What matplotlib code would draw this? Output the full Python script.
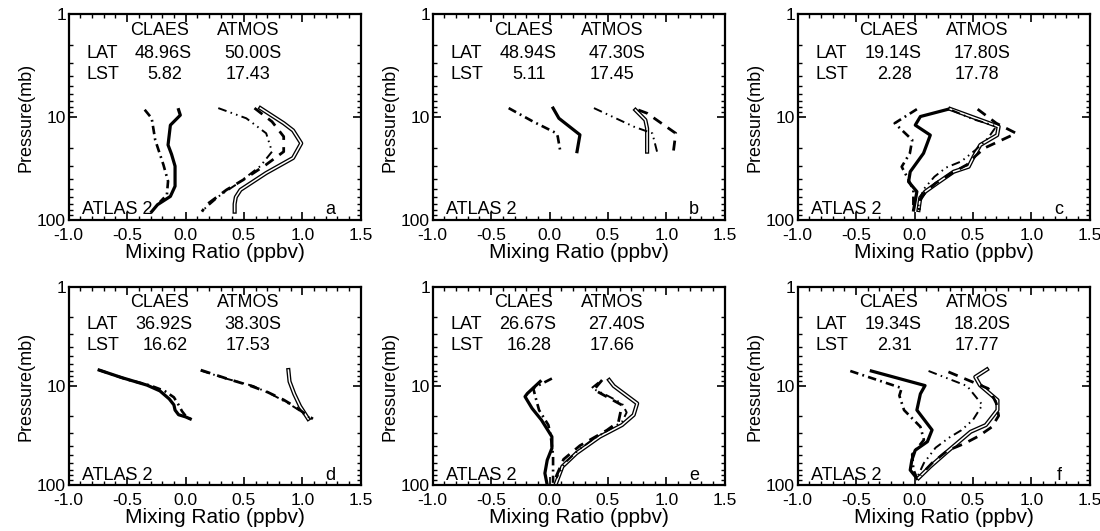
import matplotlib.pyplot as plt
from matplotlib.ticker import MultipleLocator, FixedLocator, LogLocator, NullFormatter

plt.rcParams['font.family'] = ['Liberation Sans', 'DejaVu Sans']

# ---- profiles: mixing ratio (ppbv) vs pressure (mb) ----
# panel a
a_claes_x = [-0.06, -0.045, -0.13, -0.15, -0.12, -0.09, -0.09, -0.13, -0.24, -0.29]
a_claes_p = [8.5, 9.6, 12, 18.7, 23, 30, 47, 59, 71, 83]
a_claes2_x = [-0.35, -0.29, -0.26, -0.19, -0.15, -0.16, -0.22]
a_claes2_p = [8.5, 10.3, 16.7, 29, 42, 57, 67]
a_atmos_x = [0.64, 0.84, 0.92, 0.99, 0.92, 0.69, 0.47, 0.43, 0.42, 0.42]
a_atmos_p = [8.2, 11.5, 13.5, 18, 25, 35, 51, 60, 70, 83]
a_dash_x = [0.59, 0.74, 0.84, 0.84, 0.69, 0.49, 0.35, 0.18, 0.14]
a_dash_p = [8.2, 11.1, 15.5, 21.7, 29, 41, 51, 71, 83]
a_dotdot_x = [0.28, 0.52, 0.69, 0.74, 0.64, 0.45, 0.30, 0.15]
a_dotdot_p = [8.2, 10.3, 14.4, 21.7, 30, 44, 57, 80]

# panel b
b_claes_x = [0.03, 0.08, 0.26, 0.235]
b_claes_p = [8.2, 10.3, 14.9, 21.7]
b_claes2_x = [-0.35, -0.14, 0.06, 0.07, 0.09]
b_claes2_p = [8.2, 11.1, 14.4, 15.5, 20.9]
b_atmos_x = [0.735, 0.82, 0.835, 0.835]
b_atmos_p = [8.55, 10.7, 12.9, 21.7]
b_dash_x = [0.76, 0.835, 1.08, 1.06]
b_dash_p = [8.55, 9.2, 14.4, 21.7]
b_dotdot_x = [0.38, 0.72, 0.88, 0.92]
b_dotdot_p = [8.2, 12.4, 14.4, 21.7]

# panel c
c_claes_x = [0.29, 0.05, 0.006, 0.135, 0.077, -0.037, -0.051, 0.02, -0.008]
c_claes_p = [8.4, 9.9, 12, 15, 22.5, 34, 42.5, 53, 80]
c_claes2_x = [0.02, -0.17, -0.02, -0.04, -0.11, -0.065, -0.01, -0.01]
c_claes2_p = [8.4, 11.5, 16.7, 22.5, 30.4, 38, 51, 80]
c_atmos_x = [0.306, 0.72, 0.707, 0.563, 0.506, 0.463, 0.335, 0.192, 0.092, 0.049, 0.034]
c_atmos_p = [8.36, 12.4, 15, 18.7, 24.3, 30.4, 34, 44, 53, 61, 80]
c_dash_x = [0.54, 0.70, 0.87, 0.60, 0.52, 0.45, 0.32, 0.18, 0.09, 0.05, 0.04]
c_dash_p = [8.4, 11.5, 14.4, 20, 24, 29, 35, 44, 54, 64, 80]
c_dotdot_x = [0.32, 0.50, 0.70, 0.63, 0.52, 0.40, 0.27, 0.17, 0.08, 0.04, 0.03]
c_dotdot_p = [8.6, 10.5, 12.3, 16, 21, 27, 31, 38, 50, 65, 80]

# panel d
d_claes_x = [-0.74, -0.55, -0.33, -0.22, -0.14, -0.10, -0.09, -0.06, 0.0, 0.04]
d_claes_p = [6.9, 8.2, 9.8, 11.2, 13.5, 15.5, 17.5, 19.5, 20.5, 21.5]
d_claes2_x = [-0.74, -0.50, -0.30, -0.18, -0.10, -0.06, -0.03, 0.0, 0.04]
d_claes2_p = [6.9, 8.6, 9.9, 11.2, 13.0, 15.5, 18, 20, 21.5]
d_atmos_x = [0.88, 0.89, 0.93, 0.98, 1.05]
d_atmos_p = [6.9, 9, 12, 16, 21.5]
d_dash_x = [0.13, 0.35, 0.55, 0.70, 0.84, 0.95, 1.02, 1.09]
d_dash_p = [6.9, 8.4, 9.9, 11.5, 13.8, 16.5, 19, 21.5]
d_dotdot_x = [0.13, 0.36, 0.58, 0.74, 0.88, 0.97, 1.03, 1.08]
d_dotdot_p = [7.0, 8.5, 10.0, 12.2, 15.0, 17.5, 20, 21.3]

# panel e
e_claes_x = [-0.08, -0.19, -0.21, -0.15, -0.07, 0.02, 0.02, -0.02, -0.04, -0.02]
e_claes_p = [9.0, 11.9, 12.8, 16.8, 22, 32.5, 42.6, 56, 76, 100]
e_claes2_x = [0.02, -0.14, -0.12, -0.09, -0.01, 0.01, 0.03, 0.03]
e_claes2_p = [8.4, 10.5, 13, 17.5, 24.8, 32, 50, 95]
e_atmos_x = [0.51, 0.55, 0.75, 0.72, 0.62, 0.43, 0.23, 0.11, 0.05]
e_atmos_p = [8.7, 10, 15, 19.6, 24.8, 32.5, 47.7, 65, 100]
e_dash_x = [0.45, 0.38, 0.62, 0.59, 0.49, 0.26, 0.12, 0.06, 0.04]
e_dash_p = [8.7, 10.9, 15.6, 23, 28, 40, 55, 80, 100]
e_dotdot_x = [0.42, 0.36, 0.50, 0.62, 0.66, 0.62, 0.50, 0.38, 0.25, 0.13, 0.06]
e_dotdot_p = [9.2, 10.5, 12.6, 15, 18.5, 23, 28, 34, 44, 60, 85]

# panel f
f_claes_x = [-0.37, 0.09, 0.05, 0.02, 0.15, 0.11, 0.006, -0.023, -0.037, 0.02]
f_claes_p = [7.05, 9.9, 12, 17.5, 27.8, 36.5, 44.5, 56, 70.6, 85.6]
f_claes2_x = [-0.55, -0.11, -0.13, -0.09, 0.05, 0.08, -0.02, -0.01, 0.02]
f_claes2_p = [7.05, 10.5, 12.5, 17.5, 25.8, 35, 49, 70, 85]
f_atmos_x = [0.62, 0.52, 0.56, 0.71, 0.71, 0.61, 0.48, 0.28, 0.135, 0.034]
f_atmos_p = [6.8, 8.1, 9.8, 13.9, 17.5, 24.8, 29, 46, 65, 85]
f_dash_x = [0.29, 0.63, 0.66, 0.70, 0.72, 0.66, 0.55, 0.43, 0.28, 0.15, 0.05]
f_dash_p = [7.2, 10.6, 12, 15, 20, 26, 32, 38, 45, 60, 80]
f_dotdot_x = [0.12, 0.45, 0.58, 0.56, 0.50, 0.40, 0.30, 0.18, 0.08, 0.02]
f_dotdot_p = [7.05, 10, 15.5, 17, 22, 28, 33, 42, 60, 85]

# header info per panel: CLAES lat, ATMOS lat, CLAES LST, ATMOS LST
panel_letters = ['a', 'b', 'c', 'd', 'e', 'f']
claes_lat = ['48.96S', '48.94S', '19.14S', '36.92S', '26.67S', '19.34S']
atmos_lat = ['50.00S', '47.30S', '17.80S', '38.30S', '27.40S', '18.20S']
claes_lst = ['5.82', '5.11', '2.28', '16.62', '16.28', '2.31']
atmos_lst = ['17.43', '17.45', '17.78', '17.53', '17.66', '17.77']

x_ticks = [-1.0, -0.5, 0.0, 0.5, 1.0, 1.5]
y_ticks = [1, 10, 100]

profiles = {
    'a': [(a_claes_x, a_claes_p), (a_claes2_x, a_claes2_p), (a_atmos_x, a_atmos_p),
          (a_dash_x, a_dash_p), (a_dotdot_x, a_dotdot_p)],
    'b': [(b_claes_x, b_claes_p), (b_claes2_x, b_claes2_p), (b_atmos_x, b_atmos_p),
          (b_dash_x, b_dash_p), (b_dotdot_x, b_dotdot_p)],
    'c': [(c_claes_x, c_claes_p), (c_claes2_x, c_claes2_p), (c_atmos_x, c_atmos_p),
          (c_dash_x, c_dash_p), (c_dotdot_x, c_dotdot_p)],
    'd': [(d_claes_x, d_claes_p), (d_claes2_x, d_claes2_p), (d_atmos_x, d_atmos_p),
          (d_dash_x, d_dash_p), (d_dotdot_x, d_dotdot_p)],
    'e': [(e_claes_x, e_claes_p), (e_claes2_x, e_claes2_p), (e_atmos_x, e_atmos_p),
          (e_dash_x, e_dash_p), (e_dotdot_x, e_dotdot_p)],
    'f': [(f_claes_x, f_claes_p), (f_claes2_x, f_claes2_p), (f_atmos_x, f_atmos_p),
          (f_dash_x, f_dash_p), (f_dotdot_x, f_dotdot_p)],
}

fig = plt.figure(figsize=(11, 5.31), dpi=100)

# axes boxes [left, bottom, width, height] in figure fraction
lefts = [0.0625, 0.3934, 0.7252]
rows = [(0.5857, 0.388), (0.0866, 0.3729)]


def draw_panel(ax, i, letter):
    claes, claes2, atmos, dash, dotdot = profiles[letter]
    ax.plot(*claes, color='black', lw=2.3, solid_joinstyle='round')
    ax.plot(*claes2, color='black', lw=1.9, linestyle=(0, (3.2, 1.6, 0.7, 1.6)))
    # double line: thick black with white core
    ax.plot(*atmos, color='black', lw=3.0, solid_joinstyle='round')
    ax.plot(*atmos, color='white', lw=1.1, solid_joinstyle='round')
    ax.plot(*dash, color='black', lw=2.0, linestyle=(0, (3.6, 2.6)))
    ax.plot(*dotdot, color='black', lw=1.4, linestyle=(0, (4.5, 2.2, 0.8, 2.2, 0.8, 2.2)))

    ax.set_yscale('log')
    ax.set_ylim(100, 1)
    ax.set_xlim(-1.0, 1.5)
    ax.xaxis.set_major_locator(FixedLocator(x_ticks))
    ax.set_xticklabels([f'{t:.1f}' for t in x_ticks])
    ax.xaxis.set_minor_locator(MultipleLocator(0.1))
    ax.yaxis.set_major_locator(FixedLocator(y_ticks))
    ax.set_yticklabels([str(t) for t in y_ticks])
    ax.yaxis.set_minor_locator(LogLocator(base=10, subs=range(2, 10)))
    ax.yaxis.set_minor_formatter(NullFormatter())
    ax.tick_params(which='both', direction='in', top=True, right=True, labelsize=12.5)
    ax.tick_params(axis='x', pad=6)
    ax.tick_params(axis='y', pad=2)
    ax.tick_params(which='major', length=6, width=1.2)
    ax.tick_params(which='minor', length=3, width=1.0)
    for s in ax.spines.values():
        s.set_linewidth(1.6)

    ax.set_xlabel('Mixing Ratio (ppbv)', fontsize=15, labelpad=0)
    ax.set_ylabel('Pressure(mb)', fontsize=13, labelpad=2)

    fs = 13
    ax.text(0.31, 0.92, 'CLAES', transform=ax.transAxes, ha='center', va='center', fontsize=fs)
    ax.text(0.615, 0.92, 'ATMOS', transform=ax.transAxes, ha='center', va='center', fontsize=fs)
    ax.text(0.06, 0.81, 'LAT', transform=ax.transAxes, ha='left', va='center', fontsize=fs)
    ax.text(0.325, 0.81, claes_lat[i], transform=ax.transAxes, ha='center', va='center', fontsize=fs)
    ax.text(0.63, 0.81, atmos_lat[i], transform=ax.transAxes, ha='center', va='center', fontsize=fs)
    ax.text(0.06, 0.705, 'LST', transform=ax.transAxes, ha='left', va='center', fontsize=fs)
    ax.text(0.33, 0.705, claes_lst[i], transform=ax.transAxes, ha='center', va='center', fontsize=fs)
    ax.text(0.615, 0.705, atmos_lst[i], transform=ax.transAxes, ha='center', va='center', fontsize=fs)
    ax.text(0.045, 0.05, 'ATLAS 2', transform=ax.transAxes, ha='left', va='center', fontsize=fs)
    ax.text(0.895, 0.05, letter, transform=ax.transAxes, ha='center', va='center', fontsize=fs)


for i, letter in enumerate(panel_letters):
    bottom, height = rows[i // 3]
    ax = fig.add_axes([lefts[i % 3], bottom, 0.2655, height])
    draw_panel(ax, i, letter)

fig.savefig('out.png', dpi=100)
